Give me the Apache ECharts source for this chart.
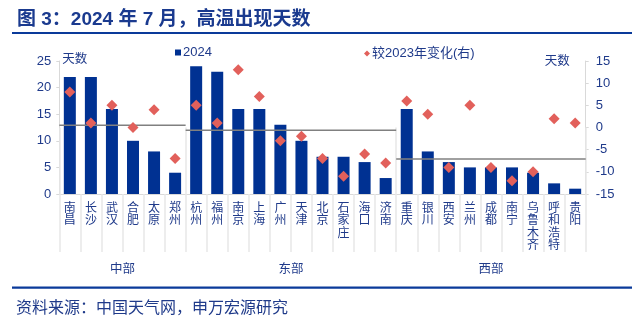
<!DOCTYPE html>
<html><head><meta charset="utf-8">
<script src="https://cdn.jsdelivr.net/npm/echarts@6/dist/echarts.min.js"></script>
<style>html,body{margin:0;padding:0;background:#fff}#c{width:640px;height:324px}</style>
</head><body><div id="c"></div>
<script>
const cities = ['南昌','长沙','武汉','合肥','太原','郑州','杭州','福州','南京','上海','广州','天津','北京','石家庄','海口','济南','重庆','银川','西安','兰州','成都','南宁','乌鲁木齐','呼和浩特','贵阳'];
const days2024 = [22,22,16,10,8,4,24,23,16,16,13,10,7,7,6,3,16,8,6,5,5,5,4,2,1];
const change2023 = [8,1,5,0,4,-7,5,1,13,7,-3,-2,-7,-11,-6,-8,6,3,-9,5,-9,-12,-10,2,1];
const groups = ['中部','东部','西部'];
const groupSizes = [6,10,9];
const groupAvg = [12.9,12.0,6.6];
const leftTicks = [0,5,10,15,20,25];
const rightTicks = [-15,-10,-5,0,5,10,15];

const FONT = '"Liberation Sans", "Noto Sans CJK SC", sans-serif';
const TXT = '#1f3a8a';
const AX = '#d9d9d9';

const bounds = [0];
groupSizes.forEach(n => bounds.push(bounds[bounds.length-1] + n));
const centers = groupSizes.map((n,i) => bounds[i] + n/2);
const avgSeries = groups.map((g,i) => ({
  type:'line', xAxisIndex:1, yAxisIndex:0, symbol:'none', silent:true,
  lineStyle:{color:'#808080', width:1.5},
  data:[[bounds[i], groupAvg[i]],[bounds[i+1], groupAvg[i]]]
}));

const chart = echarts.init(document.getElementById('c'), null, {renderer:'canvas'});
chart.setOption({
  animation:false,
  textStyle:{fontFamily:FONT},
  title:[
    {text:'图 3：2024 年 7 月，高温出现天数', left:12, top:5,
     textStyle:{fontSize:19, fontWeight:'bold', color:'#1a3a8f', fontFamily:FONT}},
    {text:'资料来源：中国天气网，申万宏源研究', left:11, top:296,
     textStyle:{fontSize:16, fontWeight:'normal', color:'#1f3a8a', fontFamily:FONT}}
  ],
  graphic:[
    {type:'rect', shape:{x:12, y:32, width:620, height:2}, style:{fill:'#0a3a9a'}},
    {type:'rect', shape:{x:12, y:286.5, width:620, height:2.2}, style:{fill:'#0a3a9a'}}
  ],
  legend:[
    {data:[{name:'2024', icon:'rect'}], left:170, top:41, itemWidth:6, itemHeight:6, itemGap:2,
     textStyle:{fontSize:13, color:TXT, fontFamily:FONT, padding:[0,0,0,-3]}},
    {data:[{name:'较2023年变化(右)', icon:'diamond', itemStyle:{opacity:1}}], left:359, top:42, itemWidth:6, itemHeight:6, itemGap:2,
     textStyle:{fontSize:13, color:TXT, fontFamily:FONT, padding:[0,0,0,-3]}}
  ],
  grid:{left:59.3, right:54.3, top:61, bottom:130, containLabel:false},
  xAxis:[
    {type:'category', data:cities, position:'bottom',
     axisLine:{show:true, lineStyle:{color:AX, width:1}},
     axisTick:{show:true, interval:0, length:58, lineStyle:{color:'#e8e8e8', width:1.5}},
     axisLabel:{interval:0, margin:8, fontSize:12, lineHeight:12.5, color:TXT, fontFamily:FONT,
       formatter:v => v.split('').join('\n')}},
    {type:'value', min:0, max:25, position:'bottom',
     axisLine:{show:false},
     splitLine:{show:false},
     axisTick:{show:true, customValues:bounds, length:89, lineStyle:{color:'#e8e8e8', width:1.5}},
     axisLabel:{show:true, customValues:centers, margin:69, fontSize:12.5, color:TXT, fontFamily:FONT,
       formatter:v => { const i = centers.indexOf(v); return i >= 0 ? groups[i] : ''; }}}
  ],
  yAxis:[
    {type:'value', min:0, max:25, interval:5, position:'left',
     name:'天数', nameLocation:'end', nameGap:-7,
     nameTextStyle:{fontSize:12.5, color:TXT, align:'left', padding:[0,0,2,3], fontFamily:FONT},
     axisLine:{show:true, lineStyle:{color:AX}},
     axisTick:{show:true, length:3, lineStyle:{color:AX}},
     splitLine:{show:false},
     axisLabel:{margin:8, fontSize:13, color:TXT, fontFamily:FONT}},
    {type:'value', min:-15, max:15, interval:5, position:'right',
     name:'天数', nameLocation:'end', nameGap:-7,
     nameTextStyle:{fontSize:12.5, color:TXT, align:'right', padding:[0,16,0,0], fontFamily:FONT},
     axisLine:{show:true, lineStyle:{color:AX}},
     axisTick:{show:true, length:3, lineStyle:{color:AX}},
     splitLine:{show:false},
     axisLabel:{margin:10, fontSize:13, color:TXT, fontFamily:FONT}}
  ],
  series:[
    {name:'2024', type:'bar', data:days2024, barWidth:12, xAxisIndex:0, yAxisIndex:0,
     itemStyle:{color:'#003192'}},
    {name:'较2023年变化(右)', type:'scatter', data:change2023, xAxisIndex:0, yAxisIndex:1,
     symbol:'diamond', symbolSize:11, itemStyle:{color:'#e2605b', opacity:1}, z:5}
  ].concat(avgSeries)
});
</script></body></html>
